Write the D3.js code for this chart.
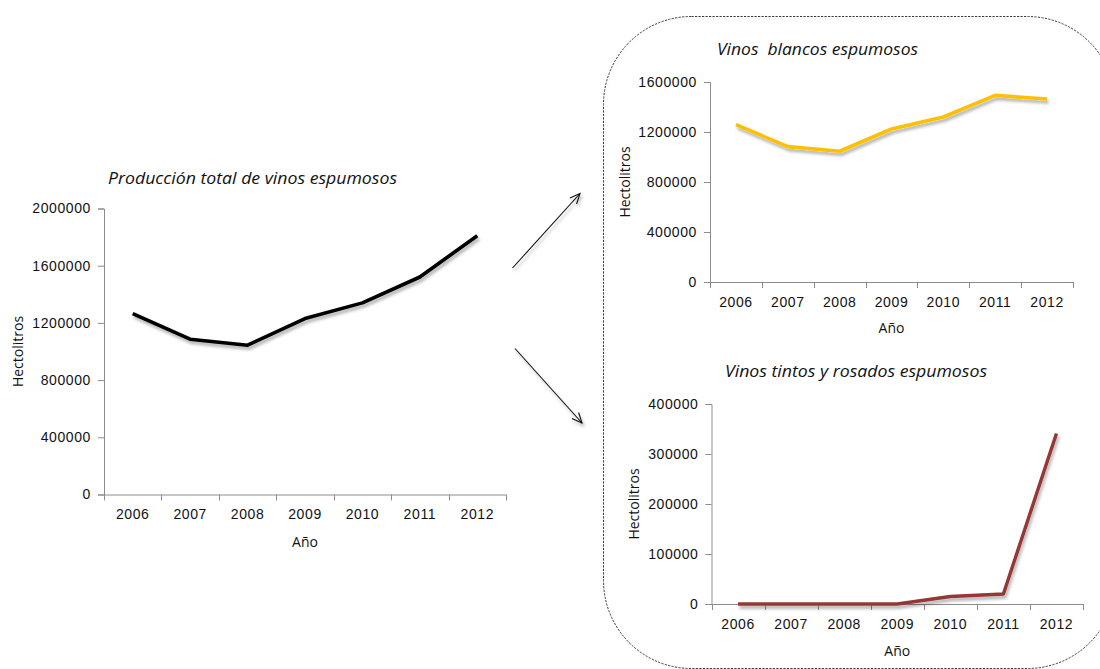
<!DOCTYPE html>
<html>
<head>
<meta charset="utf-8">
<script src="https://cdn.jsdelivr.net/npm/d3@7"></script>
<style>
  html, body { margin: 0; padding: 0; background: #fff; }
  svg { display: block; font-family: "Open Sans", Lato, sans-serif; }
</style>
</head>
<body>
<svg id="chart" width="1100" height="669"></svg>
<script>
// Sparkling wine production (hectolitres), 2006-2012
const years = ["2006", "2007", "2008", "2009", "2010", "2011", "2012"];
const totalProduction = [1265000, 1086000, 1044000, 1230000, 1340000, 1521000, 1810000];
const whiteSparkling = [1259000, 1083000, 1046000, 1224000, 1320000, 1493000, 1464000];
const redRoseSparkling = [0, 0, 0, 0, 15000, 20000, 341000];

const totalTicks = [0, 400000, 800000, 1200000, 1600000, 2000000];
const whiteTicks = [0, 400000, 800000, 1200000, 1600000];
const redRoseTicks = [0, 100000, 200000, 300000, 400000];

const titles = {
  total: "Producción total de vinos espumosos",
  white: "Vinos  blancos espumosos",
  redRose: "Vinos tintos y rosados espumosos"
};
const yLabel = "Hectolitros";
const xLabel = "Año";

const svg = d3.select("#chart");
const defs = svg.append("defs");

// soft drop shadow used under lines and arrows
const shadow = defs.append("filter").attr("id", "shadow")
  .attr("x", "-10%").attr("y", "-10%").attr("width", "130%").attr("height", "140%");
shadow.append("feDropShadow")
  .attr("dx", 1.5).attr("dy", 3).attr("stdDeviation", 1.8)
  .attr("flood-color", "#000").attr("flood-opacity", 0.3);

const frameShadow = defs.append("filter").attr("id", "frameShadow")
  .attr("x", "-5%").attr("y", "-5%").attr("width", "110%").attr("height", "110%");
frameShadow.append("feDropShadow")
  .attr("dx", 1).attr("dy", 2).attr("stdDeviation", 2)
  .attr("flood-color", "#000").attr("flood-opacity", 0.12);

// dashed rounded frame around the two breakdown charts
svg.append("rect")
  .attr("x", 603.5).attr("y", 16.5)
  .attr("width", 512).attr("height", 652)
  .attr("rx", 88).attr("ry", 88)
  .attr("fill", "none")
  .attr("stroke", "#3a3a3a")
  .attr("stroke-width", 1)
  .attr("stroke-dasharray", "2.2,1.3")
  .attr("filter", "url(#frameShadow)");

// arrows from the total chart to the breakdowns
function arrow(x1, y1, x2, y2) {
  const g = svg.append("g").attr("filter", "url(#shadow)");
  const ang = Math.atan2(y2 - y1, x2 - x1);
  const len = 11, spread = 0.42;
  const head = [
    [x2 - len * Math.cos(ang - spread), y2 - len * Math.sin(ang - spread)],
    [x2, y2],
    [x2 - len * Math.cos(ang + spread), y2 - len * Math.sin(ang + spread)]
  ];
  g.append("line")
    .attr("x1", x1).attr("y1", y1).attr("x2", x2).attr("y2", y2)
    .attr("stroke", "#111").attr("stroke-width", 1.1);
  g.append("path")
    .attr("d", d3.line()(head))
    .attr("fill", "none").attr("stroke", "#111").attr("stroke-width", 1.1);
}
arrow(512.5, 268, 580, 193.5);
arrow(515, 348.5, 582, 423);

function lineChart(opt) {
  const { left, right, top, bottom, values, ticks, color, width, title } = opt;
  const g = svg.append("g");

  const x = d3.scaleBand().domain(years).range([left, right]).padding(0);
  const y = d3.scaleLinear().domain([0, d3.max(ticks)]).range([bottom, top]);

  const axisColor = "#8c8c8c";
  const textColor = "#111";

  // y axis
  const yAxis = d3.axisLeft(y).tickValues(ticks).tickFormat(d3.format("d"))
    .tickSize(6).tickPadding(7);
  const ya = g.append("g").attr("transform", `translate(${left},0)`).call(yAxis);
  ya.select(".domain").attr("stroke", axisColor);
  ya.selectAll(".tick line").attr("stroke", axisColor);
  ya.selectAll(".tick text")
    .attr("fill", textColor).style("font-size", "14px")
    .style("letter-spacing", "0.6px");

  // x axis: labels centred in each band, ticks on band edges
  const xAxis = d3.axisBottom(x).tickSize(0).tickPadding(15);
  const xa = g.append("g").attr("transform", `translate(0,${bottom})`).call(xAxis);
  xa.select(".domain").remove();
  xa.selectAll(".tick text")
    .attr("fill", textColor).style("font-size", "14px")
    .style("letter-spacing", "0.6px");
  g.append("line")
    .attr("x1", left).attr("x2", right)
    .attr("y1", bottom + 0.5).attr("y2", bottom + 0.5)
    .attr("stroke", axisColor);
  const edges = years.map(d => x(d)).concat([x(years[years.length - 1]) + x.bandwidth()]);
  g.selectAll(".xedge").data(edges).enter().append("line")
    .attr("x1", d => Math.round(d) + 0.5).attr("x2", d => Math.round(d) + 0.5)
    .attr("y1", bottom).attr("y2", bottom + 6)
    .attr("stroke", axisColor);

  // axis titles
  g.append("text")
    .attr("x", (left + right) / 2).attr("y", bottom + opt.xTitleDy)
    .attr("text-anchor", "middle").attr("fill", textColor)
    .style("font-size", "14px").text(xLabel);
  g.append("text")
    .attr("transform", `translate(${opt.yTitleX},${(top + bottom) / 2}) rotate(-90)`)
    .attr("text-anchor", "middle").attr("dy", "0.35em").attr("fill", textColor)
    .style("font-size", "14px").text(yLabel);

  // chart title (spaces kept as written)
  g.append("text")
    .attr("x", opt.titleX).attr("y", opt.titleY)
    .attr("fill", "#111").style("font-style", "italic")
    .style("white-space", "pre")
    .style("font-size", opt.titleSize + "px")
    .attr("textLength", opt.titleLen).attr("lengthAdjust", "spacingAndGlyphs")
    .text(title);

  // the series line
  const line = d3.line()
    .x((d, i) => x(years[i]) + x.bandwidth() / 2)
    .y(d => y(d));
  g.append("path")
    .datum(values)
    .attr("d", line)
    .attr("fill", "none")
    .attr("stroke", color)
    .attr("stroke-width", width)
    .attr("stroke-linejoin", "round")
    .attr("filter", "url(#shadow)");
}

lineChart({
  left: 104, right: 506, top: 208.5, bottom: 494.5,
  values: totalProduction, ticks: totalTicks, color: "#000", width: 3.6,
  title: titles.total, titleX: 108, titleY: 184, titleSize: 16, titleLen: 289,
  xTitleDy: 52, yTitleX: 18
});

lineChart({
  left: 710, right: 1073, top: 82, bottom: 282,
  values: whiteSparkling, ticks: whiteTicks, color: "#FFC000", width: 3.6,
  title: titles.white, titleX: 717, titleY: 55, titleSize: 16, titleLen: 201,
  xTitleDy: 51, yTitleX: 625
});

lineChart({
  left: 711.5, right: 1083, top: 404, bottom: 604,
  values: redRoseSparkling, ticks: redRoseTicks, color: "#953735", width: 3.4,
  title: titles.redRose, titleX: 725, titleY: 377, titleSize: 16, titleLen: 262,
  xTitleDy: 52, yTitleX: 634
});
</script>
</body>
</html>
